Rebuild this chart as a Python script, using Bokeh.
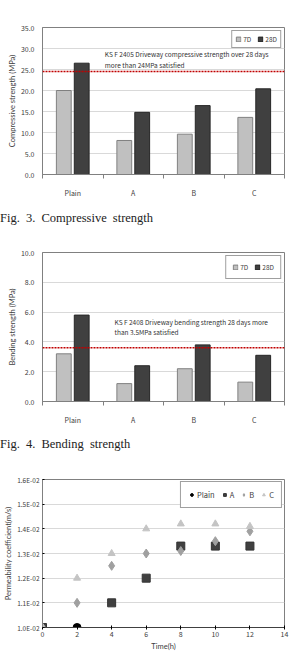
import numpy as np
from bokeh.plotting import figure
from bokeh.models import (Range1d, FixedTicker, Span, Label, Legend, LegendItem, Div,
                          CustomJSTickFormatter, NumeralTickFormatter)
from bokeh.layouts import column
from bokeh.embed import file_html
from bokeh.resources import INLINE

# ---------------- data ----------------
categories = ["Plain", "A", "B", "C"]
series_names = ["7D", "28D"]
comp_7d = [20.0, 8.1, 9.6, 13.6]
comp_28d = [26.5, 14.8, 16.4, 20.4]
comp_ticks = [0, 5, 10, 15, 20, 25, 30, 35]
comp_standard = 24.5
bend_7d = [3.2, 1.2, 2.2, 1.3]
bend_28d = [5.8, 2.4, 3.8, 3.1]
bend_ticks = [0, 2, 4, 6, 8, 10]
bend_standard = 3.6

time_plain = [0, 2]
perm_plain = [0.0100, 0.0100]
time_a = [0, 4, 6, 8, 10, 12]
perm_a = [0.0100, 0.0110, 0.0120, 0.0133, 0.0133, 0.0133]
time_b = [0, 2, 4, 6, 8, 10, 12]
perm_b = [0.0100, 0.0110, 0.0125, 0.0130, 0.0131, 0.0135, 0.0139]
time_c = [0, 2, 4, 6, 8, 10, 12]
perm_c = [0.0100, 0.0120, 0.0130, 0.0140, 0.0142, 0.0142, 0.0141]
time_ticks = [0, 2, 4, 6, 8, 10, 12, 14]
perm_ticks = [0.010, 0.011, 0.012, 0.013, 0.014, 0.015, 0.016]

FONT = "Noto Sans CJK KR"
TITLE_FONT = "Lato"
AX = "#404040"


def style_axes(p):
    for ax in (p.xaxis[0], p.yaxis[0]):
        ax.major_label_text_font = FONT
        ax.major_label_text_color = AX
        ax.axis_label_text_font = TITLE_FONT
        ax.axis_label_text_color = AX
        ax.axis_label_text_font_style = "normal"
    p.background_fill_color = "white"
    p.border_fill_color = "white"


def bar_fig(h, top, bottom, ymax, yticks, ytitle, v7, v28, std, notes, note_x, note_ys, pad):
    n = len(categories)
    centers = np.arange(n) + 0.5
    off, w = 0.148, 0.245
    p = figure(width=290, height=h, output_backend="svg", toolbar_location=None,
               x_range=Range1d(0, n), y_range=Range1d(0, ymax),
               min_border_top=top, min_border_bottom=bottom,
               min_border_left=39, min_border_right=6)
    r7 = p.vbar(x=centers - off, top=v7, width=w, fill_color="#c0c0c0", line_color="#808080")
    r28 = p.vbar(x=centers + off, top=v28, width=w, fill_color="#404040", line_color="#262626")
    p.outline_line_color = "#808080"
    p.xgrid.visible = False
    p.ygrid.grid_line_color = "#d9d9d9"
    p.xaxis.ticker = FixedTicker(ticks=list(centers), minor_ticks=list(range(n + 1)))
    p.xaxis.formatter = CustomJSTickFormatter(args=dict(cats=categories),
                                              code="return cats[Math.floor(tick)];")
    p.xaxis.major_tick_out = 0
    p.xaxis.major_tick_in = 0
    p.xaxis.minor_tick_out = 4
    p.xaxis.minor_tick_in = 0
    p.xaxis.minor_tick_line_color = "#808080"
    p.xaxis.axis_line_color = "#808080"
    p.xaxis.major_label_standoff = 9
    p.xaxis.major_label_text_font_size = "7px"
    p.yaxis.ticker = FixedTicker(ticks=yticks)
    p.yaxis.formatter = NumeralTickFormatter(format="0.0")
    p.yaxis.major_tick_out = 0
    p.yaxis.major_tick_in = 0
    p.yaxis.minor_tick_line_color = None
    p.yaxis.axis_line_color = "#808080"
    p.yaxis.major_label_standoff = 8
    p.yaxis.major_label_text_font_size = "7px"
    p.yaxis.axis_label = ytitle
    p.yaxis.axis_label_text_font_size = "7.5px"
    p.yaxis.axis_label_standoff = 1
    style_axes(p)
    p.add_layout(Span(location=std, dimension="width", line_color="#c00000",
                      line_dash="2 1", line_width=1.5))
    for t, y in zip(notes, note_ys):
        p.add_layout(Label(x=note_x, y=y, text=t, text_font=FONT, text_font_size="6.5px",
                           text_color="#333333", text_baseline="middle"))
    leg = Legend(items=[LegendItem(label=series_names[0], renderers=[r7]),
                        LegendItem(label=series_names[1], renderers=[r28])],
                 location="top_right", orientation="horizontal")
    leg.margin = 3
    leg.padding = pad
    leg.spacing = 6
    leg.glyph_width = 6
    leg.glyph_height = 6
    leg.label_height = 6
    leg.label_width = 1
    leg.label_standoff = 2
    leg.label_text_font = FONT
    leg.label_text_font_size = "6.5px"
    leg.label_text_color = AX
    leg.border_line_color = "#404040"
    p.add_layout(leg)
    return p


p1 = bar_fig(200, 27, 25, 35, comp_ticks, "Compressive strength (MPa)", comp_7d, comp_28d,
             comp_standard,
             ["KS F 2405 Driveway compressive strength over 28 days",
              "more than 24MPa satisfied"], 1.03, [28.6, 26.1], 3)
p2 = bar_fig(187, 12, 25, 10, bend_ticks, "Bending strength (MPa)", bend_7d, bend_28d,
             bend_standard,
             ["KS F 2408 Driveway bending strength 28 days more",
              "than 3.5MPa satisfied"], 1.19, [5.33, 4.67], 6)

cap_style = {"font-family": "Liberation Serif", "font-size": "12.5px", "word-spacing": "3px",
             "color": "#222222", "white-space": "nowrap"}
d1 = Div(text="Fig. 3. Compressive strength", width=290, height=40, margin=(0, 0, 0, 0),
         styles=dict(cap_style, **{"line-height": "36px"}))
d2 = Div(text="Fig. 4. Bending strength", width=290, height=33, margin=(0, 0, 0, 0),
         styles=dict(cap_style, **{"line-height": "34px"}))

# ---------------- scatter ----------------
p3 = figure(width=290, height=193, output_backend="svg", toolbar_location=None,
            x_range=Range1d(0, 14), y_range=Range1d(0.010, 0.016),
            min_border_top=19, min_border_bottom=23, min_border_left=42, min_border_right=0)
p3.scatter(time_plain, perm_plain, marker="circle", size=8, color="black", legend_label="Plain")
p3.scatter(time_a, perm_a, marker="square", size=8, fill_color="#404040", line_color="#333333",
           legend_label="A")
p3.scatter(time_b, perm_b, marker="diamond", size=9, color="#a0a0a0", legend_label="B")
p3.scatter(time_c, perm_c, marker="triangle", size=7, color="#c4c4c4", legend_label="C")
p3.outline_line_color = "#808080"
p3.xgrid.visible = False
p3.ygrid.grid_line_color = "#d9d9d9"
p3.xaxis.ticker = FixedTicker(ticks=time_ticks)
p3.xaxis.major_tick_out = 2
p3.xaxis.major_tick_in = 2
p3.xaxis.minor_tick_line_color = None
p3.xaxis.axis_line_color = "#404040"
p3.xaxis.major_label_standoff = 1
p3.xaxis.major_label_text_font_size = "7px"
p3.xaxis.axis_label = "Time(h)"
p3.xaxis.axis_label_text_font_size = "7.5px"
p3.xaxis.axis_label_standoff = 2
p3.yaxis.ticker = FixedTicker(ticks=perm_ticks)
p3.yaxis.formatter = CustomJSTickFormatter(code="""
const s = tick.toExponential(1);
const parts = s.split('e');
const n = parseInt(parts[1]);
return parts[0] + 'E' + (n < 0 ? '-' : '+') + String(Math.abs(n)).padStart(2, '0');
""")
p3.yaxis.major_tick_out = 0
p3.yaxis.major_tick_in = 2
p3.yaxis.minor_tick_line_color = None
p3.yaxis.axis_line_color = "#808080"
p3.yaxis.major_label_standoff = 3
p3.yaxis.major_label_text_font_size = "6.5px"
p3.yaxis.axis_label = "Permeability coefficient(m/s)"
p3.yaxis.axis_label_text_font_size = "7.5px"
p3.yaxis.axis_label_standoff = 1
style_axes(p3)
lg = p3.legend[0]
lg.location = "top_right"
lg.orientation = "horizontal"
lg.margin = 2
lg.padding = 7
lg.spacing = 6
lg.glyph_width = 7
lg.glyph_height = 7
lg.label_height = 7
lg.label_width = 1
lg.label_standoff = 2
lg.label_text_font = FONT
lg.label_text_font_size = "7.5px"
lg.label_text_color = AX
lg.border_line_color = "#404040"

layout = column(p1, d1, p2, d2, p3, spacing=0)
open("out.html", "w").write(file_html(layout, INLINE))
